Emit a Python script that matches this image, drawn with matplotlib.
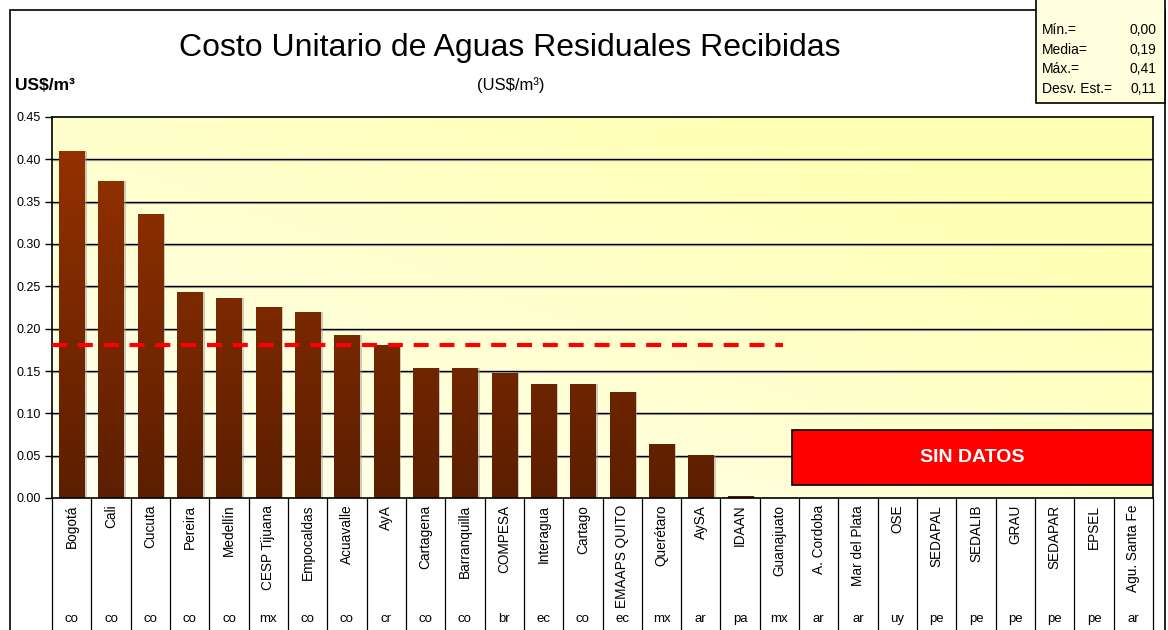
import matplotlib as mpl
mpl.use("Agg")
import matplotlib.pyplot as plt
from matplotlib.patches import Rectangle
import numpy as np

plt.rcParams['font.family'] = ['Liberation Sans', 'DejaVu Sans']

# Data
empresas = ["Bogotá", "Cali", "Cucuta", "Pereira", "Medellín", "CESP Tijuana",
            "Empocaldas", "Acuavalle", "AyA", "Cartagena", "Barranquilla", "COMPESA",
            "Interagua", "Cartago", "EMAAPS QUITO", "Querétaro", "AySA", "IDAAN",
            "Guanajuato", "A. Cordoba", "Mar del Plata", "OSE", "SEDAPAL", "SEDALIB",
            "GRAU", "SEDAPAR", "EPSEL", "Agu. Santa Fe"]
paises = ["co", "co", "co", "co", "co", "mx", "co", "co", "cr", "co", "co", "br",
          "ec", "co", "ec", "mx", "ar", "pa", "mx", "ar", "ar", "uy", "pe", "pe",
          "pe", "pe", "pe", "ar"]
costos = [0.410, 0.374, 0.335, 0.243, 0.236, 0.226, 0.220, 0.193, 0.181, 0.154,
          0.154, 0.148, 0.135, 0.135, 0.125, 0.064, 0.051, 0.002, 0.0]
media_linea = 0.181
stats_nombres = ["Mín.=", "Media=", "Máx.=", "Desv. Est.="]
stats_valores = ["0,00", "0,19", "0,41", "0,11"]
yticks = [0.0, 0.05, 0.10, 0.15, 0.20, 0.25, 0.30, 0.35, 0.40, 0.45]

W, H = 1168, 630
fig = plt.figure(figsize=(W / 100, H / 100), dpi=100)
fig.patch.set_facecolor("white")

# outer frame
fig.patches.append(Rectangle((10 / W, -0.05), (1165 - 10) / W, 1.05 - 10 / H,
                             transform=fig.transFigure, fill=False,
                             edgecolor="black", lw=1.2, zorder=1))

ax = fig.add_axes([52 / W, 1 - 498 / H, (1153 - 52) / W, (498 - 117) / H])
n = len(empresas)

# yellow gradient background
gx, gy = np.meshgrid(np.linspace(0, 1, 200), np.linspace(0, 1, 100))
g = np.clip((gx * 0.6 + gy * 0.6), 0, 1)
c0 = np.array([1.0, 1.0, 0.95])
c1 = np.array([1.0, 1.0, 0.70])
bg = c0[None, None, :] * (1 - g[..., None]) + c1[None, None, :] * g[..., None]
ax.imshow(bg, extent=[0, 1, 0, 1], transform=ax.transAxes, origin="lower",
          aspect="auto", zorder=0)

# gridlines with a soft shadow
for yv in yticks[1:-1]:
    ax.axhline(yv - 0.0013, color="#b0b0b0", lw=0.9, zorder=1)
    ax.axhline(yv, color="black", lw=1.0, zorder=1.1)

# bars with vertical gradient
bars = ax.bar(range(len(costos)), costos, width=0.64, color="none", zorder=2)
grad = np.linspace(0, 1, 256)[:, None]
bot = np.array([0.36, 0.12, 0.0])
top = np.array([0.60, 0.20, 0.0])
bar_img = bot[None, None, :] * (1 - grad[..., None]) + top[None, None, :] * grad[..., None]
for b in bars:
    x0, w, h = b.get_x(), b.get_width(), b.get_height()
    if h <= 0:
        continue
    ax.add_patch(Rectangle((x0 + 0.06, 0), w, h, color="#9a9a9a", alpha=0.5, lw=0, zorder=1.5))
    im = ax.imshow(bar_img, extent=[x0, x0 + w, 0, 0.45], origin="lower",
                   aspect="auto", zorder=2)
    im.set_clip_path(b)
ax.set_xlim(-0.5, n - 0.5)
ax.set_ylim(0, 0.45)

# mean dashed line
ax.plot([-0.5, 18.1], [media_linea, media_linea], color="#ff0000", lw=3,
        dashes=(3.6, 2.6), zorder=3)

# SIN DATOS box
ax.add_patch(Rectangle((18.33, 0.0154), 27.49 - 18.33, 0.080 - 0.0154,
                       facecolor="#ff0000", edgecolor="black", lw=1.2, zorder=3))
ax.text((18.33 + 27.49) / 2, 0.0477, "SIN DATOS", color="white", fontsize=14,
        fontweight="bold", ha="center", va="center", zorder=4)

# axes styling
ax.set_yticks(yticks)
ax.set_yticklabels([f"{v:.2f}" for v in yticks], fontsize=9)
ax.tick_params(axis="y", direction="out", length=5, width=1, pad=3)
ax.set_xticks([])
for s in ax.spines.values():
    s.set_color("black")
    s.set_linewidth(1.2)

# category labels and separators below axis
tr = ax.get_xaxis_transform()
for i in range(n + 1):
    ax.plot([i - 0.5, i - 0.5], [0, -0.4], color="black", lw=0.9,
            transform=tr, clip_on=False)
for i, (e, p) in enumerate(zip(empresas, paises)):
    ax.text(i, -0.018, e, rotation=90, ha="center", va="top", fontsize=9.8,
            transform=tr, clip_on=False)
    ax.text(i, -0.318, p, ha="center", va="center", fontsize=9.5,
            transform=tr, clip_on=False)

# titles
fig.text(510 / W, 1 - 48 / H, "Costo Unitario de Aguas Residuales Recibidas",
         fontsize=23, ha="center", va="center")
fig.text(511 / W, 1 - 85 / H, "(US$/m³)", fontsize=12, ha="center", va="center")
fig.text(15 / W, 1 - 85 / H, "US$/m³", fontsize=12.5, fontweight="bold",
         ha="left", va="center")

# stats box
fig.patches.append(Rectangle((1036 / W, 1 - 103 / H), (1165 - 1036) / W, 103 / H + 0.01,
                             transform=fig.transFigure, facecolor="#ffffe0",
                             edgecolor="black", lw=1.2, zorder=5))
for k, (nm, vl) in enumerate(zip(stats_nombres, stats_valores)):
    yy = 1 - (30 + k * 19.7) / H
    fig.text(1042 / W, yy, nm, fontsize=10, ha="left", va="center", zorder=6)
    fig.text(1156 / W, yy, vl, fontsize=10, ha="right", va="center", zorder=6)

fig.savefig("out.png", dpi=100)
